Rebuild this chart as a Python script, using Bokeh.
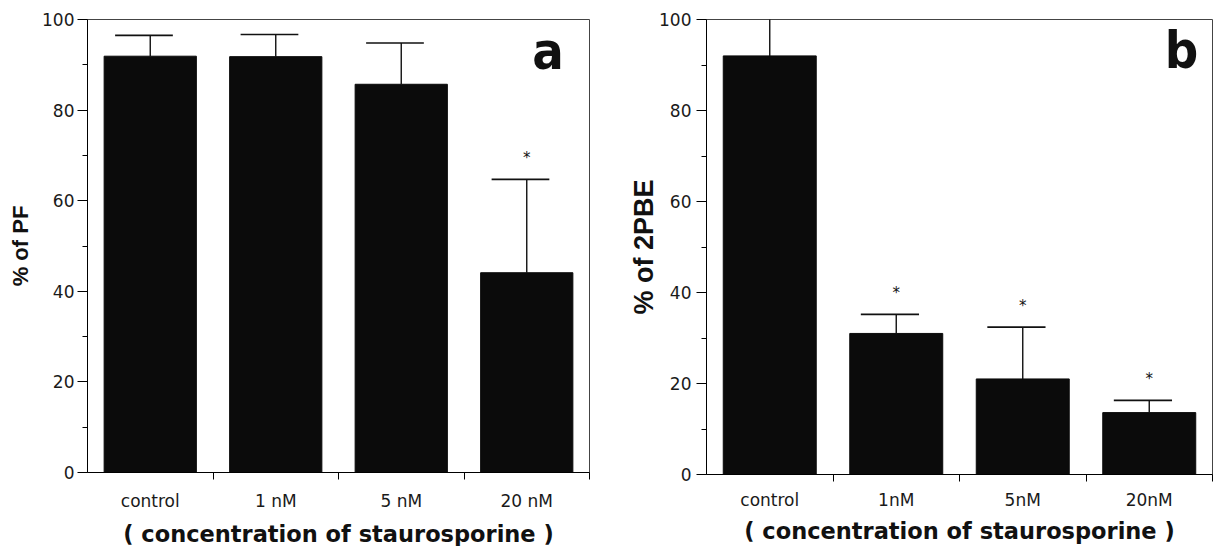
from bokeh.plotting import figure
from bokeh.layouts import row
from bokeh.models import FixedTicker, Range1d, Label, ColumnDataSource
from bokeh.core.properties import value
from bokeh.embed import file_html
from bokeh.resources import INLINE

# ---- data ----
cats_a = ["control", "1 nM", "5 nM", "20 nM"]
pf_mean = [91.9, 91.8, 85.7, 44.1]
pf_err = [4.6, 4.9, 9.1, 20.6]
pf_sig = ["", "", "", "*"]

cats_b = ["control", "1nM", "5nM", "20nM"]
pbe_mean = [92.0, 31.0, 21.0, 13.6]
pbe_err = [8.5, 4.2, 11.4, 2.7]
pbe_sig = ["", "*", "*", "*"]

y_ticks = [0, 20, 40, 60, 80, 100]
y_minor = [10, 30, 50, 70, 90]
x_title = "( concentration of staurosporine )"

TICK_FONT = "DejaVu Sans"
BAR_W = 0.735


def panel(cats, mean, err, sig, ylabel, letter, fw, fh,
          bl, br, bt, ylab_size, ylab_standoff, tick_standoff,
          xtick_standoff, xtitle_standoff, letter_xy):
    n = len(cats)
    xs = [i + 0.5 for i in range(n)]
    tops = [m + e for m, e in zip(mean, err)]
    p = figure(frame_width=fw, frame_height=fh, output_backend="svg",
               toolbar_location=None, x_range=Range1d(0, n), y_range=Range1d(0, 100),
               min_border_left=bl, min_border_right=br, min_border_top=bt,
               min_border_bottom=0)
    p.grid.visible = False
    p.outline_line_color = "#444444"
    p.outline_line_width = 1
    p.background_fill_color = "white"
    p.border_fill_color = "white"

    src = ColumnDataSource(dict(x=xs, mean=mean, top=tops,
                                cl=[x - 0.28 for x in xs], cr=[x + 0.18 for x in xs],
                                sig=sig, sy=[t + 5.6 for t in tops]))
    p.vbar(x="x", top="mean", bottom=0, width=BAR_W, source=src,
           fill_color="#0b0b0b", line_color="#0b0b0b")
    p.segment(x0="x", y0="mean", x1="x", y1="top", source=src,
              line_color="#111111", line_width=1.4)
    p.segment(x0="cl", y0="top", x1="cr", y1="top", source=src,
              line_color="#111111", line_width=1.6)
    p.text(x="x", y="sy", text="sig", source=src, text_align="center",
           text_baseline="middle", text_font=value("DejaVu Sans"),
           text_font_size="15px", text_color="#111111", y_offset=4)

    # x axis
    xa = p.xaxis[0]
    xa.ticker = FixedTicker(ticks=xs, minor_ticks=list(range(1, n + 1)))
    xa.major_label_overrides = {x: c for x, c in zip(xs, cats)}
    xa.major_tick_line_color = None
    xa.major_tick_out = 0
    xa.major_tick_in = 0
    xa.minor_tick_out = 7
    xa.minor_tick_in = 0
    xa.minor_tick_line_color = "black"
    xa.axis_line_color = "black"
    xa.major_label_text_font = TICK_FONT
    xa.major_label_text_font_size = "17px"
    xa.major_label_text_color = "#1a1a1a"
    xa.major_label_standoff = xtick_standoff
    xa.axis_label = x_title
    xa.axis_label_text_font = "DejaVu Sans"
    xa.axis_label_text_font_style = "bold"
    xa.axis_label_text_font_size = "22.5px"
    xa.axis_label_text_color = "#111111"
    xa.axis_label_standoff = xtitle_standoff

    # y axis
    ya = p.yaxis[0]
    ya.ticker = FixedTicker(ticks=y_ticks, minor_ticks=y_minor)
    ya.major_tick_out = 10
    ya.major_tick_in = 0
    ya.minor_tick_out = 5
    ya.minor_tick_in = 0
    ya.axis_line_color = "black"
    ya.major_tick_line_color = "black"
    ya.minor_tick_line_color = "black"
    ya.major_label_text_font = TICK_FONT
    ya.major_label_text_font_size = "17px"
    ya.major_label_text_color = "#1a1a1a"
    ya.major_label_standoff = tick_standoff
    ya.axis_label = ylabel
    ya.axis_label_text_font = "Liberation Sans"
    ya.axis_label_text_font_style = "bold"
    ya.axis_label_text_font_size = ylab_size
    ya.axis_label_text_color = "#111111"
    ya.axis_label_standoff = ylab_standoff

    p.add_layout(Label(x=letter_xy[0], y=letter_xy[1], text=letter,
                       text_align="center", text_baseline="alphabetic",
                       text_font="DejaVu Sans Condensed", text_font_style="bold",
                       text_font_size="52px", text_color="#111111"))
    return p


pa = panel(cats_a, pf_mean, pf_err, pf_sig, "% of PF", "a",
           fw=502, fh=453, bl=87, br=11, bt=16,
           ylab_size="22px", ylab_standoff=6, tick_standoff=3,
           xtick_standoff=11, xtitle_standoff=7,
           letter_xy=(3.67, 93.0))
pb = panel(cats_b, pbe_mean, pbe_err, pbe_sig, "% of 2PBE", "b",
           fw=506, fh=455, bl=106, br=1, bt=19,
           ylab_size="27px", ylab_standoff=-3, tick_standoff=5,
           xtick_standoff=8, xtitle_standoff=5,
           letter_xy=(3.755, 93.3))

layout = row(pa, pb)
open("out.html", "w").write(file_html(layout, INLINE))
